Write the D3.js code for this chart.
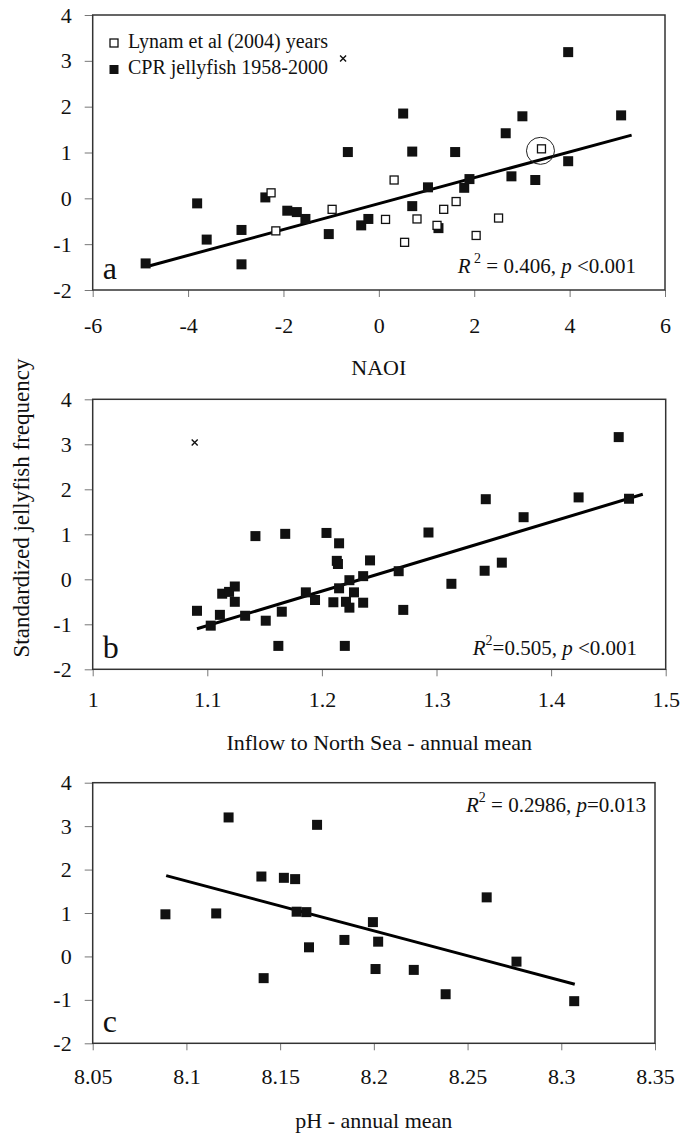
<!DOCTYPE html>
<html>
<head>
<meta charset="utf-8">
<script src="https://cdn.jsdelivr.net/npm/d3@7"></script>
<style>
  body { margin: 0; background: #fff; }
  svg text { font-family: "Liberation Serif", "Times New Roman", serif; fill: #111; }
  .tick line { stroke: #777; stroke-width: 1; }
  .domain { display: none; }
</style>
</head>
<body>
<div id="chart"></div>
<script>
var svgWidth = 680;
var svgHeight = 1141;

// panel a - NAOI
var naoCpr = [-4.89, -3.81, -3.61, -2.88, -2.88, -2.38, -1.92, -1.72, -1.54, -1.05, -0.65, -0.37, -0.22,
  0.51, 0.70, 0.70, 1.03, 1.25, 1.60, 1.79, 1.90, 2.66, 2.78, 3.01, 3.28, 3.97, 3.97, 5.08];
var jellyCprA = [-1.42, -0.11, -0.90, -0.69, -1.44, 0.02, -0.27, -0.30, -0.45, -0.78, 1.01, -0.59, -0.45,
  1.85, 1.02, -0.17, 0.24, -0.65, 1.01, 0.23, 0.42, 1.42, 0.48, 1.79, 0.40, 3.19, 0.81, 1.81];
var naoLynam = [-2.26, -2.16, -0.98, 0.14, 0.32, 0.54, 0.80, 1.22, 1.36, 1.62, 2.04, 2.51, 3.41];
var jellyLynam = [0.12, -0.71, -0.24, -0.46, 0.40, -0.96, -0.45, -0.59, -0.24, -0.07, -0.81, -0.43, 1.08];
var fitA = [[-4.8, -1.47], [5.3, 1.38]];
var outlierA = [-0.75, 3.05];
var circledA = [3.41, 1.08];
var naoTicks = [-6, -4, -2, 0, 2, 4, 6];

// panel b - inflow
var inflow = [1.091, 1.103, 1.111, 1.113, 1.119, 1.124, 1.124, 1.133, 1.142, 1.151, 1.162, 1.165, 1.168,
  1.186, 1.194, 1.204, 1.210, 1.215, 1.213, 1.214, 1.215, 1.220, 1.221, 1.224, 1.224, 1.228, 1.236, 1.236,
  1.242, 1.267, 1.271, 1.293, 1.313, 1.343, 1.342, 1.357, 1.376, 1.424, 1.459, 1.468];
var jellyB = [-0.70, -1.03, -0.79, -0.32, -0.28, -0.16, -0.50, -0.81, 0.96, -0.92, -1.48, -0.72, 1.01,
  -0.29, -0.46, 1.03, -0.51, 0.80, 0.41, 0.34, -0.20, -1.48, -0.50, -0.02, -0.63, -0.29, -0.52, 0.07,
  0.42, 0.18, -0.68, 1.04, -0.10, 1.78, 0.19, 0.37, 1.38, 1.82, 3.16, 1.79];
var fitB = [[1.091, -1.10], [1.480, 1.89]];
var outlierB = [1.089, 3.04];
var inflowTicks = [1, 1.1, 1.2, 1.3, 1.4, 1.5];

// panel c - pH
var ph = [8.0888, 8.1159, 8.1225, 8.140, 8.1412, 8.152, 8.158, 8.1588, 8.164, 8.1654, 8.1697, 8.1843,
  8.1995, 8.2023, 8.2009, 8.2213, 8.2383, 8.2602, 8.2761, 8.3069];
var jellyC = [0.97, 0.99, 3.20, 1.84, -0.50, 1.81, 1.78, 1.03, 1.02, 0.21, 3.03, 0.38,
  0.79, 0.34, -0.29, -0.31, -0.87, 1.36, -0.12, -1.03];
var fitC = [[8.0892, 1.86], [8.3072, -0.64]];
var phTicks = [8.05, 8.1, 8.15, 8.2, 8.25, 8.3, 8.35];

var yTicks = [-2, -1, 0, 1, 2, 3, 4];

var svg = d3.select("#chart")
  .append("svg")
  .attr("width", svgWidth)
  .attr("height", svgHeight);

// plain hyphen minus like the original figure
var plain = d => String(d);

function drawPanel(p) {
  var g = svg.append("g");
  var x = d3.scaleLinear().domain(p.xDomain).range([p.left, p.right]);
  var y = d3.scaleLinear().domain([-2, 4]).range([p.bottom, p.top]);

  // x axis ticks + labels
  g.append("g")
    .attr("transform", `translate(0, ${p.bottom})`)
    .call(d3.axisBottom(x).tickValues(p.xTicks).tickFormat(plain).tickSize(7).tickPadding(p.xPad))
    .selectAll("text")
    .style("font-family", "'Liberation Serif', serif")
    .style("font-size", "22px");

  g.append("g")
    .attr("transform", `translate(${p.left}, 0)`)
    .call(d3.axisLeft(y).tickValues(yTicks).tickFormat(plain).tickSize(8).tickPadding(13))
    .selectAll("text")
    .style("font-family", "'Liberation Serif', serif")
    .style("font-size", "22px");

  // frame
  g.append("rect")
    .attr("x", p.left)
    .attr("y", p.top)
    .attr("width", p.right - p.left)
    .attr("height", p.bottom - p.top)
    .attr("fill", "none")
    .attr("stroke", "#333")
    .attr("stroke-width", 1.5);

  // axis title
  g.append("text")
    .attr("x", (p.left + p.right) / 2)
    .attr("y", p.bottom + p.titleGap)
    .attr("text-anchor", "middle")
    .attr("dominant-baseline", "middle")
    .style("font-size", "22px")
    .text(p.title);

  // regression line
  g.append("line")
    .attr("x1", x(p.fit[0][0]))
    .attr("y1", y(p.fit[0][1]))
    .attr("x2", x(p.fit[1][0]))
    .attr("y2", y(p.fit[1][1]))
    .attr("stroke", "#000")
    .attr("stroke-width", 3);

  // filled squares
  var s = 10;
  g.selectAll("rect.filled")
    .data(d3.range(p.xs.length)).enter()
    .append("rect")
    .attr("class", "filled")
    .attr("x", i => x(p.xs[i]) - s / 2)
    .attr("y", i => y(p.ys[i]) - s / 2)
    .attr("width", s)
    .attr("height", s)
    .attr("fill", "#111");

  // open squares
  if (p.openX) {
    g.selectAll("rect.open")
      .data(d3.range(p.openX.length)).enter()
      .append("rect")
      .attr("class", "open")
      .attr("x", i => x(p.openX[i]) - 4)
      .attr("y", i => y(p.openY[i]) - 4)
      .attr("width", 8)
      .attr("height", 8)
      .attr("fill", "#fff")
      .attr("stroke", "#111")
      .attr("stroke-width", 1.3);
  }

  // outlier cross
  if (p.outlier) {
    var cx = x(p.outlier[0]), cy = y(p.outlier[1]);
    g.append("path")
      .attr("d", `M${cx - 3},${cy - 3}L${cx + 3},${cy + 3}M${cx - 3},${cy + 3}L${cx + 3},${cy - 3}`)
      .attr("stroke", "#111")
      .attr("stroke-width", 1.4);
  }

  if (p.circled) {
    g.append("ellipse")
      .attr("cx", x(p.circled[0]) - 1)
      .attr("cy", y(p.circled[1]) + 2)
      .attr("rx", 14)
      .attr("ry", 13.5)
      .attr("fill", "none")
      .attr("stroke", "#222")
      .attr("stroke-width", 1);
  }

  // panel letter
  g.append("text")
    .attr("x", p.left + 10)
    .attr("y", p.bottom - 11)
    .style("font-size", "32px")
    .text(p.letter);

  // R2 text
  var t = g.append("text")
    .attr("x", p.statX)
    .attr("y", p.statY)
    .attr("text-anchor", "end")
    .attr("dominant-baseline", "middle")
    .style("font-size", "21px");
  t.append("tspan").style("font-style", "italic").text("R");
  t.append("tspan").attr("dy", -8).style("font-size", "14px").text(p.stat[0] ? " 2" : "2");
  t.append("tspan").attr("dy", 8).text(p.stat[1]);
  t.append("tspan").style("font-style", "italic").text("p");
  t.append("tspan").text(p.stat[2]);

  return { x: x, y: y, g: g };
}

var pa = drawPanel({
  left: 92.7, right: 665, top: 15, bottom: 290, xPad: 20, titleGap: 80,
  xDomain: [-6, 6], xTicks: naoTicks,
  title: "NAOI", fit: fitA, xs: naoCpr, ys: jellyCprA,
  openX: naoLynam, openY: jellyLynam, outlier: outlierA, circled: circledA,
  letter: "a", statX: 636, statY: 268, stat: [true, " = 0.406, ", " <0.001"]
});

// legend for panel a
var legendItems = ["Lynam et al (2004) years", "CPR jellyfish 1958-2000"];
var legend = pa.g.selectAll("g.legend")
  .data(legendItems).enter()
  .append("g")
  .attr("transform", (d, i) => `translate(114, ${43 + i * 26.5})`);
legend.append("rect")
  .attr("x", (d, i) => i ? -4.5 : -4)
  .attr("y", (d, i) => i ? -4.5 : -4)
  .attr("width", (d, i) => i ? 9 : 8)
  .attr("height", (d, i) => i ? 9 : 8)
  .attr("fill", (d, i) => i ? "#111" : "#fff")
  .attr("stroke", "#111")
  .attr("stroke-width", (d, i) => i ? 0 : 1.3);
legend.append("text")
  .attr("x", 14)
  .attr("dominant-baseline", "middle")
  .style("font-size", "20px")
  .text(d => d);

drawPanel({
  left: 92.7, right: 665.7, top: 399.3, bottom: 669.3, xPad: 15, titleGap: 76,
  xDomain: [1, 1.5], xTicks: inflowTicks,
  title: "Inflow to North Sea - annual mean", fit: fitB, xs: inflow, ys: jellyB,
  outlier: outlierB, letter: "b", statX: 637, statY: 650, stat: [false, "=0.505, ", " <0.001"]
});

drawPanel({
  left: 92.7, right: 655, top: 782.7, bottom: 1043.3, xPad: 18, titleGap: 80,
  xDomain: [8.05, 8.35], xTicks: phTicks,
  title: "pH - annual mean", fit: fitC, xs: ph, ys: jellyC,
  letter: "c", statX: 646, statY: 807, stat: [false, " = 0.2986, ", "=0.013"]
});

// shared y axis title
svg.append("text")
  .attr("transform", "translate(24, 508) rotate(-90)")
  .attr("text-anchor", "middle")
  .attr("dominant-baseline", "middle")
  .style("font-size", "23px")
  .text("Standardized jellyfish frequency");
</script>
</body>
</html>
